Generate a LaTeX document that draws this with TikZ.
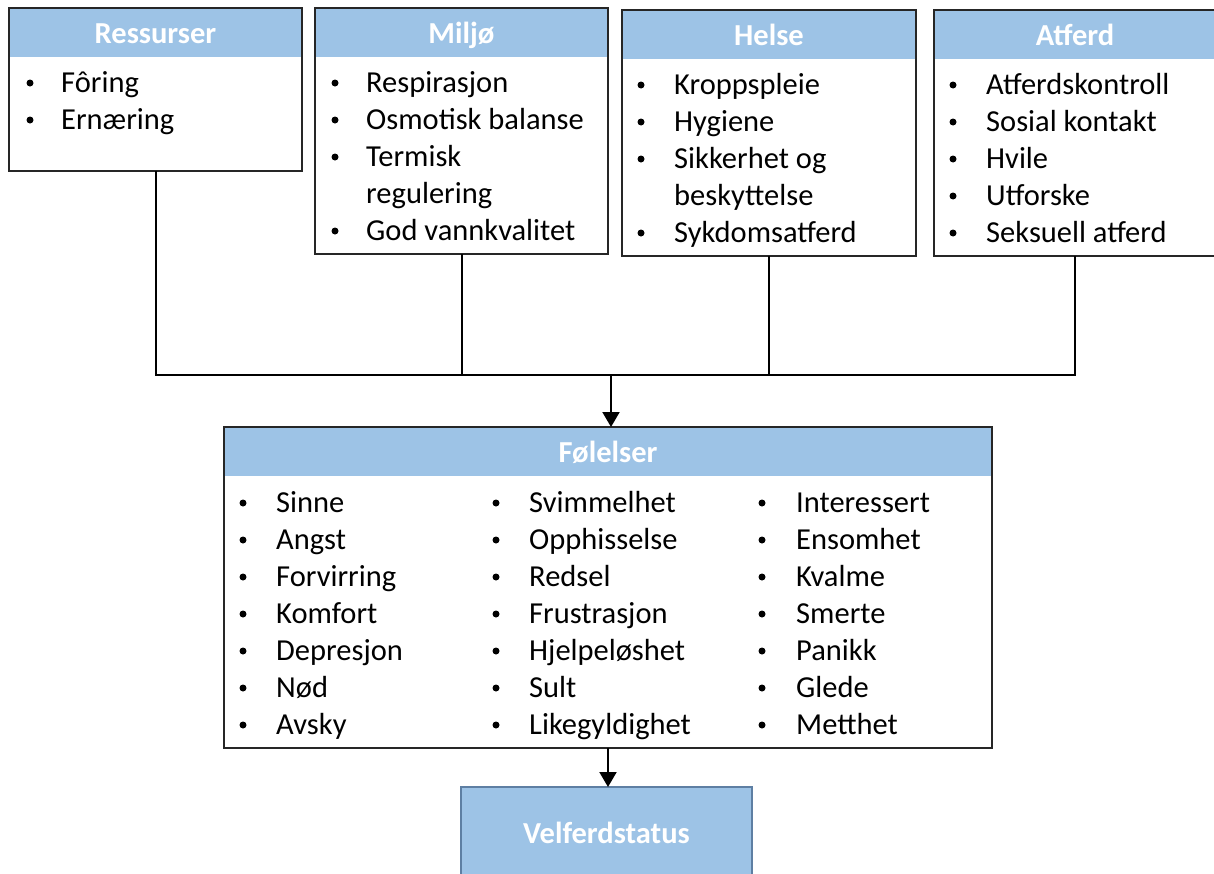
\documentclass[tikz,border=0pt]{standalone}
\usepackage{fontspec}
\setmainfont{Carlito}
\usetikzlibrary{arrows.meta}
\definecolor{headblue}{HTML}{9DC3E6}
\definecolor{boxline}{HTML}{262626}
\definecolor{velline}{HTML}{5E7FA3}
\begin{document}
\begin{tikzpicture}[x=1pt,y=-1pt,
  boxframe/.style={draw=boxline, line width=2pt, rectangle, inner sep=0pt, outer sep=0pt, anchor=north west},
  headfill/.style={fill=headblue, rectangle, inner sep=0pt, outer sep=0pt, anchor=north west},
  htext/.style={text=white, font=\bfseries\fontsize{30.5}{36}\selectfont, inner sep=0pt, anchor=base},
  item/.style={anchor=base west, inner sep=0pt, font=\fontsize{30.5}{36}\selectfont},
  bul/.style={circle, fill=black, inner sep=0pt, minimum size=7pt, yshift=9pt},
  conn/.style={draw=black, line width=2pt},
  arr/.style={draw=black, line width=2pt, -{Triangle[length=15pt,width=17pt]}}
]
\useasboundingbox (0,0) rectangle (1214,873);
\clip (0,0) rectangle (1214,873);
\fill[white] (0,0) rectangle (1214,873);

% Ressurser
\node[headfill, minimum width=293pt, minimum height=49pt] (resh) at (9,8) {};
\node[boxframe, minimum width=293pt, minimum height=163pt] (res) at (9,8) {};
\node[htext] (resl) at (155.5,43) {Ressurser};
\foreach \t [count=\i] in {Fôring, Ernæring}{
  \node[bul] (resb\i) at (30,{92+37*(\i-1)}) {};
  \node[item] (rest\i) at (61,{92+37*(\i-1)}) {\t};
}

% Miljø
\node[headfill, minimum width=293pt, minimum height=49pt] (milh) at (315,8) {};
\node[boxframe, minimum width=293pt, minimum height=246pt] (mil) at (315,8) {};
\node[htext] (mill) at (461.5,43) {Miljø};
\node[bul] (milb1) at (335,92) {};  \node[item] (milt1) at (366,92) {Respirasjon};
\node[bul] (milb2) at (335,129) {}; \node[item] (milt2) at (366,129) {Osmotisk balanse};
\node[bul] (milb3) at (335,166) {}; \node[item] (milt3) at (366,166) {Termisk};
\node[item] (milt4) at (366,203) {regulering};
\node[bul] (milb5) at (335,240) {}; \node[item] (milt5) at (366,240) {God vannkvalitet};

% Helse
\node[headfill, minimum width=294pt, minimum height=49pt] (helh) at (622,10) {};
\node[boxframe, minimum width=294pt, minimum height=246pt] (hel) at (622,10) {};
\node[htext] (hell) at (769,45) {Helse};
\node[bul] (helb1) at (641,94) {};  \node[item] (helt1) at (674,94) {Kroppspleie};
\node[bul] (helb2) at (641,131) {}; \node[item] (helt2) at (674,131) {Hygiene};
\node[bul] (helb3) at (641,168) {}; \node[item] (helt3) at (674,168) {Sikkerhet og};
\node[item] (helt4) at (674,205) {beskyttelse};
\node[bul] (helb5) at (641,242) {}; \node[item] (helt5) at (674,242) {Sykdomsatferd};

% Atferd
\node[headfill, minimum width=282pt, minimum height=49pt] (atfh) at (934,10) {};
\node[boxframe, minimum width=282pt, minimum height=246pt] (atf) at (934,10) {};
\node[htext] (atfl) at (1075,45) {Atferd};
\foreach \t [count=\i] in {Atferdskontroll, Sosial kontakt, Hvile, Utforske, Seksuell atferd}{
  \node[bul] (atfb\i) at (953,{94+37*(\i-1)}) {};
  \node[item] (atft\i) at (986,{94+37*(\i-1)}) {\t};
}

% Følelser
\node[headfill, minimum width=768pt, minimum height=49pt] (folh) at (224,427) {};
\node[boxframe, minimum width=768pt, minimum height=321pt] (fol) at (224,427) {};
\node[htext] (foll) at (608,462) {Følelser};
\foreach \t [count=\i] in {Sinne, Angst, Forvirring, Komfort, Depresjon, Nød, Avsky}{
  \node[bul] (fab\i) at (243,{512+37*(\i-1)}) {};
  \node[item] (fat\i) at (276,{512+37*(\i-1)}) {\t};
}
\foreach \t [count=\i] in {Svimmelhet, Opphisselse, Redsel, Frustrasjon, Hjelpeløshet, Sult, Likegyldighet}{
  \node[bul] (fbb\i) at (496,{512+37*(\i-1)}) {};
  \node[item] (fbt\i) at (529,{512+37*(\i-1)}) {\t};
}
\foreach \t [count=\i] in {Interessert, Ensomhet, Kvalme, Smerte, Panikk, Glede, Metthet}{
  \node[bul] (fcb\i) at (762,{512+37*(\i-1)}) {};
  \node[item] (fct\i) at (796,{512+37*(\i-1)}) {\t};
}

% Velferdstatus
\node[fill=headblue, draw=velline, line width=1.2pt, rectangle, inner sep=0pt, outer sep=0pt, anchor=north west, minimum width=291pt, minimum height=92pt] (vel) at (461,787) {};
\node[htext] (vell) at (606.5,843) {Velferdstatus};

% connectors
\coordinate (j) at (611,375);
\draw[conn] (res.south) -- (res.south |- j) -- (atf.south |- j) -- (atf.south);
\draw[conn] (mil.south) -- (mil.south |- j);
\draw[conn] (hel.south) -- (hel.south |- j);
\draw[arr] (j) -- (j |- fol.north);
\draw[arr] (fol.south) -- (fol.south |- vel.north);
\end{tikzpicture}
\end{document}
